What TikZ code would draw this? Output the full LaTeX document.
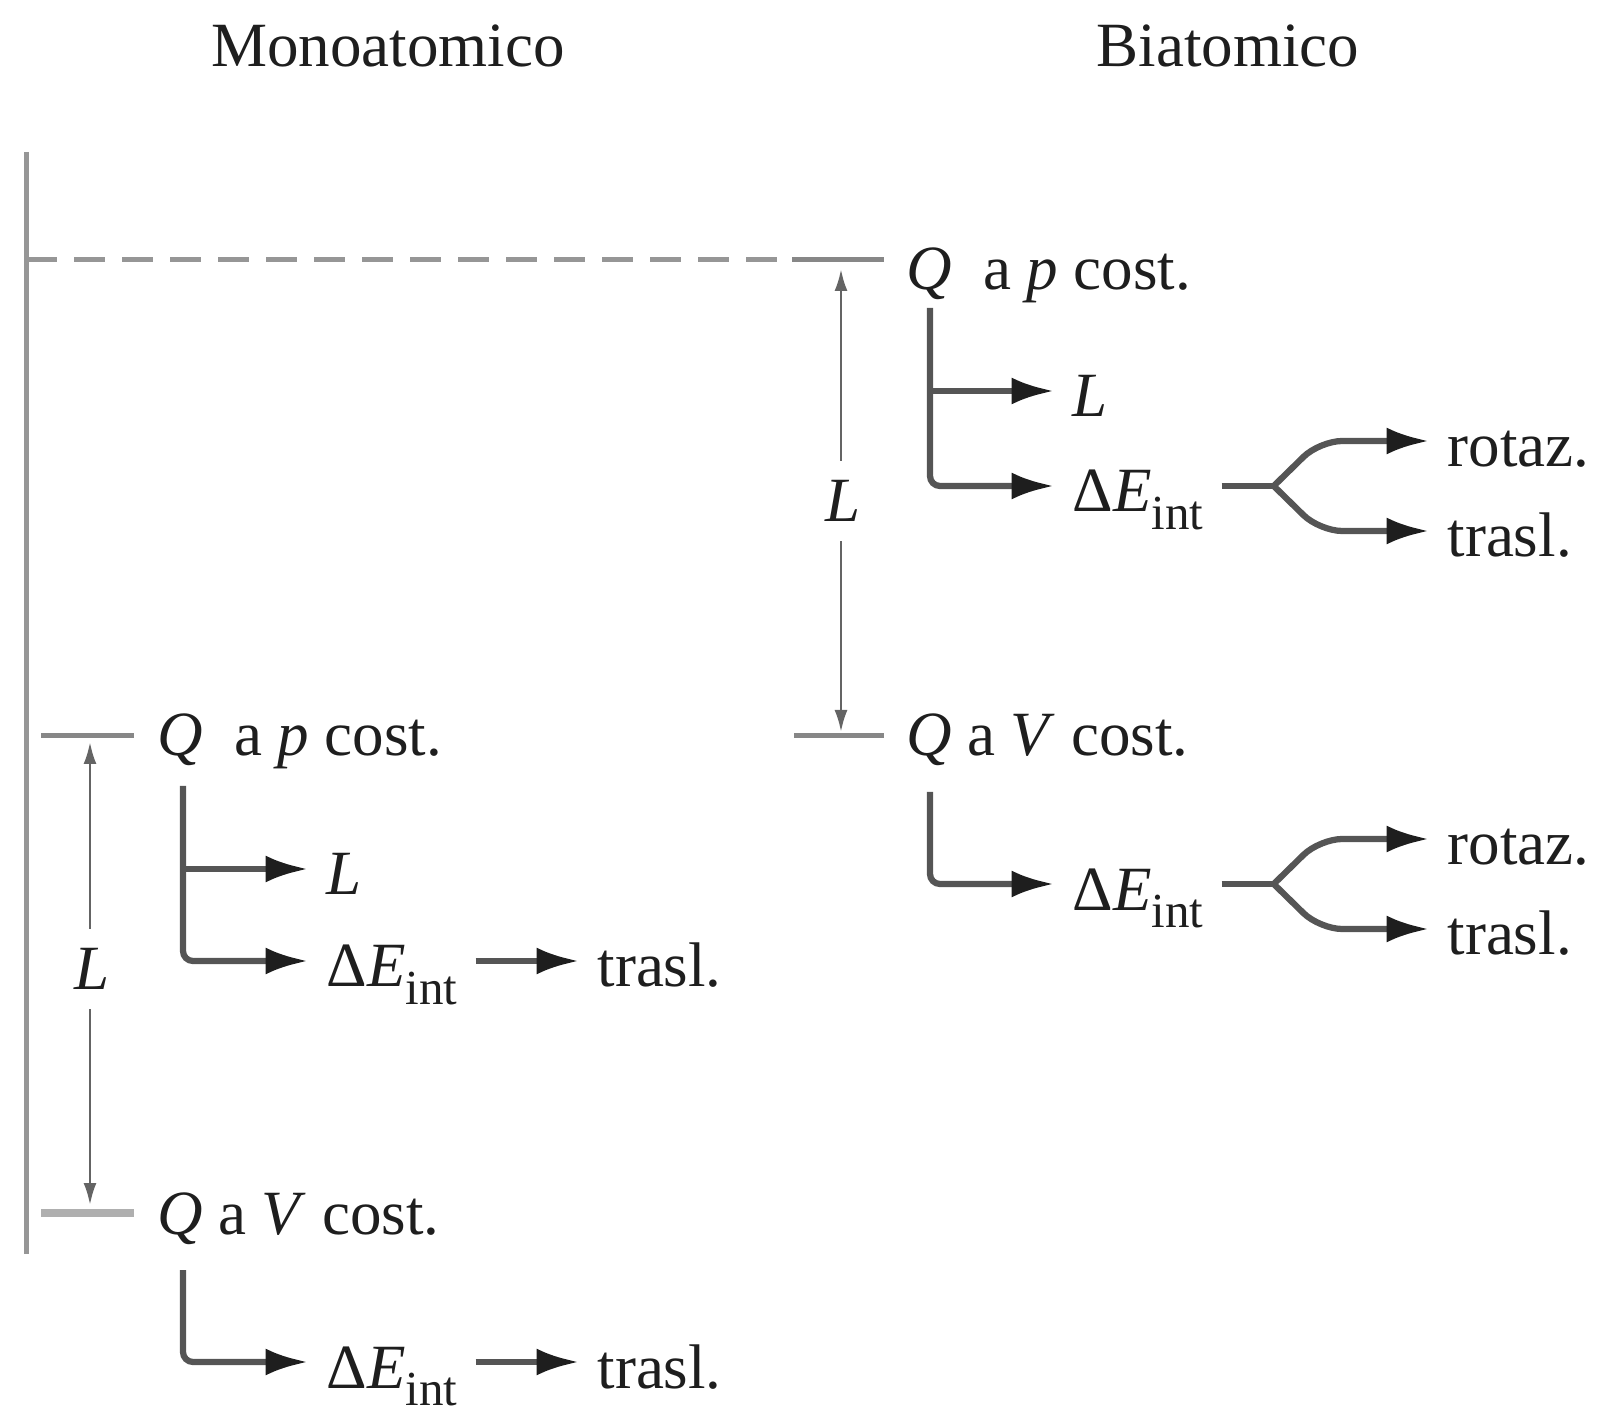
\documentclass[tikz,border=0pt]{standalone}
\usepackage{fontspec}
\setmainfont{Liberation Serif}
\usepackage{tikz}
\usetikzlibrary{
  arrows.meta,
  calc
}
\definecolor{InkBlack}{RGB}{30,30,30}
\definecolor{BranchGray}{RGB}{85,85,85}
\definecolor{AxisGray}{RGB}{150,150,150}
\definecolor{BarGray}{RGB}{135,135,135}
\definecolor{PaleBar}{RGB}{175,175,175}
\definecolor{WorkGray}{RGB}{100,100,100}
\newcommand{\lblfont}{\fontsize{12.6}{15}\selectfont}
\newcommand{\dEint}{Δ\textit{E}\raisebox{-3.5pt}{\fontsize{9.8}{10}\selectfont int}}
\tikzset{
  termnode/.style={anchor=west,inner xsep=3.5pt,inner ysep=0pt,text height=10.4pt,text depth=0pt,font=\lblfont,text=InkBlack},
  heading/.style={inner sep=0pt,font=\lblfont,text=InkBlack},
  worknode/.style={inner xsep=1pt,inner ysep=3.7pt,text height=8.3pt,text depth=0pt,font=\lblfont,text=InkBlack},
  branch/.style={-{Latex[length=8.5pt,width=5.4pt,color=InkBlack]},line width=1.25pt,draw=BranchGray,rounded corners=2pt},
  forkarrow/.style={-{Latex[length=8.5pt,width=5.4pt,color=InkBlack]},line width=1.25pt,draw=BranchGray,rounded corners=4.5pt},
  plainarrow/.style={-{Latex[length=8.5pt,width=5.4pt,color=InkBlack]},line width=1.25pt,draw=BranchGray},
  stem/.style={line width=1.25pt,draw=BranchGray},
  work/.style={-{Latex[length=4.4pt,width=2.6pt]},line width=0.55pt,draw=WorkGray},
  tbar/.style={line width=1pt,draw=BarGray},
  axisline/.style={line width=1pt,draw=AxisGray},
  dashline/.style={line width=1pt,draw=AxisGray,dash pattern=on 6.2pt off 3.4pt}
}

\begin{document}
\begin{tikzpicture}[x=0.2pt,y=-0.2pt]
\useasboundingbox (0,0) rectangle (1612,1409);

\node[heading] (mono) at (388,46) {Monoatomico};
\node[heading] (bia) at (1228,46) {Biatomico};

\draw[axisline] (26,152) -- (26,1254);
\draw[dashline] (26,260) -- (792,260);
\draw[tbar] (792,260) -- (884,260);
\draw[tbar] (794,736) -- (884,736);
\draw[tbar] (41,736) -- (134,736);
\draw[tbar,line width=1.6pt,draw=PaleBar] (41,1213) -- (134,1213);

\node[worknode] (wr) at (843,501) {\textit{L}};
\coordinate (wrt) at (841,269);
\coordinate (wrb) at (841,732);
\draw[work] (wr.north -| wrt) -- (wrt);
\draw[work] (wr.south -| wrb) -- (wrb);

\node[worknode] (wl) at (92,969) {\textit{L}};
\coordinate (wlt) at (90,742);
\coordinate (wlb) at (90,1205);
\draw[work] (wl.north -| wlt) -- (wlt);
\draw[work] (wl.south -| wlb) -- (wlb);

\node[termnode] (qpr) at (887.5,264) {\textit{Q}~ a \textit{p} cost.};
\node[termnode] (lr) at (1054,391) {\textit{L}};
\node[termnode] (der1) at (1054,486) {\dEint};
\node[termnode] (rotr1) at (1429,441) {rotaz.};
\node[termnode] (trar1) at (1429,531) {trasl.};

\draw[branch] ([shift={(42.5,44)}]qpr.west) coordinate (sr1) |- (der1.west);
\draw[plainarrow] (sr1 |- lr.west) -- (lr.west);
\draw[stem] (der1.east) -- ++(52,0) coordinate (fk1);
\draw[forkarrow] (fk1) -- ++(46,-45) -- (rotr1.west);
\draw[forkarrow] (fk1) -- ++(46,45) -- (trar1.west);

\node[termnode] (qvr) at (887.5,730) {\textit{Q} a \textit{V} cost.};
\node[termnode] (der2) at (1054,884) {\dEint};
\node[termnode] (rotr2) at (1429,839) {rotaz.};
\node[termnode] (trar2) at (1429,929) {trasl.};

\draw[branch] ([shift={(42.5,62)}]qvr.west) |- (der2.west);
\draw[stem] (der2.east) -- ++(52,0) coordinate (fk2);
\draw[forkarrow] (fk2) -- ++(46,-45) -- (rotr2.west);
\draw[forkarrow] (fk2) -- ++(46,45) -- (trar2.west);

\node[termnode] (qpl) at (138.5,730) {\textit{Q}~ a \textit{p} cost.};
\node[termnode] (ll) at (308,869) {\textit{L}};
\node[termnode] (del1) at (308,961) {\dEint};
\node[termnode] (tral1) at (579,961) {trasl.};

\draw[branch] ([shift={(44.5,56)}]qpl.west) coordinate (sl1) |- (del1.west);
\draw[plainarrow] (sl1 |- ll.west) -- (ll.west);
\draw[plainarrow] (del1.east) -- (tral1.west);

\node[termnode] (qvl) at (138.5,1208) {\textit{Q} a \textit{V} cost.};
\node[termnode] (del2) at (308,1362) {\dEint};
\node[termnode] (tral2) at (579,1362) {trasl.};

\draw[branch] ([shift={(44.5,62)}]qvl.west) |- (del2.west);
\draw[plainarrow] (del2.east) -- (tral2.west);
\end{tikzpicture}
\end{document}
